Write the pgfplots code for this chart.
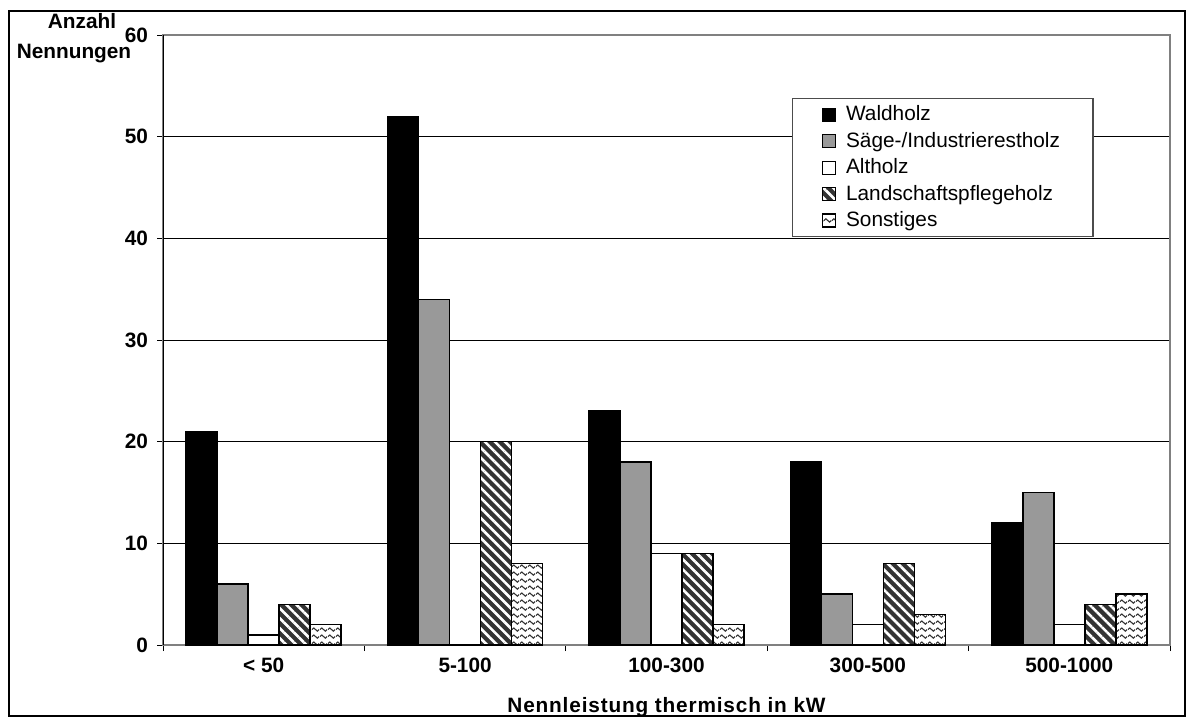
\documentclass[border=0pt]{standalone}
\usepackage{pgfplots}
\pgfplotsset{compat=1.18}
\usepackage{pgfplotstable}
\usepackage{fontspec}
\setmainfont{Liberation Sans}
\usetikzlibrary{patterns,patterns.meta}

\pgfdeclarepatternformonly{waves}{\pgfqpoint{0pt}{0pt}}{\pgfqpoint{4pt}{3.7pt}}{\pgfqpoint{4pt}{3.7pt}}{
  \pgfsetlinewidth{0.6pt}
  \pgfpathmoveto{\pgfqpoint{0pt}{1.85pt}}
  \pgfpathsine{\pgfpoint{1pt}{0.85pt}}
  \pgfpathcosine{\pgfpoint{1pt}{-0.85pt}}
  \pgfpathsine{\pgfpoint{1pt}{-0.85pt}}
  \pgfpathcosine{\pgfpoint{1pt}{0.85pt}}
  \pgfusepath{stroke}}

\pgfplotstableread{
x a b c d e
0 21 6 1 4 2
1 52 34 10 20 8
2 23 18 9 9 2
3 18 5 2 8 3
4 12 15 2 4 5
}\data

\begin{document}
\begin{tikzpicture}
\useasboundingbox (0,0) rectangle (596pt,360pt);
\draw[black, line width=0.6pt] (4.5pt,2pt) rectangle (592.5pt,354.5pt);
\node[font=\bfseries\fontsize{10.4}{12}\selectfont, inner sep=0pt] at (41pt,349.5pt) {Anzahl};
\node[font=\bfseries\fontsize{10.4}{12}\selectfont, inner sep=0pt] at (37pt,333pt) {Nennungen};
\begin{axis}[
  at={(81.5pt,37.5pt)}, anchor=south west,
  scale only axis, width=503.5pt, height=305pt,
  ybar=0pt, bar width=15.5pt,
  xmin=-0.5, xmax=4.5, ymin=0, ymax=60,
  xtick={-0.5,0.5,...,4.5}, x tick label as interval,
  xticklabels={{< 50},{5-100},{100-300},{300-500},{500-1000}},
  ytick={0,10,...,60},
  ymajorgrids, grid style={black, line width=0.5pt},
  tick align=outside, tickpos=left, major tick length=3pt,
  tick style={black, line width=0.5pt},
  axis line style={black!50, line width=0.6pt},
  ticklabel style={font=\bfseries\fontsize{10.4}{12}\selectfont},
  yticklabel style={xshift=-1pt},
  /pgf/number format/assume math mode=true,
  xlabel={Nennleistung thermisch in kW},
  xlabel style={font=\bfseries\fontsize{10.4}{12}\selectfont\addfontfeature{LetterSpace=4}, yshift=-5.5pt},
  legend style={at={(0.6246,0.8967)}, anchor=north west, draw=black!70, line width=0.6pt,
    font=\fontsize{10.4}{12}\selectfont, inner xsep=14.5pt, inner ysep=1.5pt, row sep=0.2pt,
    column sep=3pt},
  legend cell align=left,
  legend image code/.code={\draw[#1, line width=0.6pt] (0pt,-3.25pt) rectangle (6.5pt,3.25pt);},
]
\draw[black, line width=0.6pt] (rel axis cs:0,0) -- (rel axis cs:0,1);
\addplot[draw=black, line width=0.75pt, fill=black] table[x=x,y=a]{\data};
\addplot[draw=black, line width=0.75pt, fill=black!40] table[x=x,y=b]{\data};
\addplot[draw=black, line width=0.75pt, fill=white] table[x=x,y=c]{\data};
\addplot[draw=black, line width=0.75pt, fill=black!80,
  postaction={pattern={Lines[angle=-45,distance=3.55pt,line width=1.3pt]}, pattern color=white, draw=black, line width=0.75pt}] table[x=x,y=d]{\data};
\addplot[draw=black, line width=0.75pt, fill=white,
  postaction={pattern=waves, pattern color=black!80, draw=black, line width=0.75pt}] table[x=x,y=e]{\data};
\legend{Waldholz, Säge-/Industrierestholz, Altholz, Landschaftspflegeholz, Sonstiges}
\end{axis}
\end{tikzpicture}
\end{document}
